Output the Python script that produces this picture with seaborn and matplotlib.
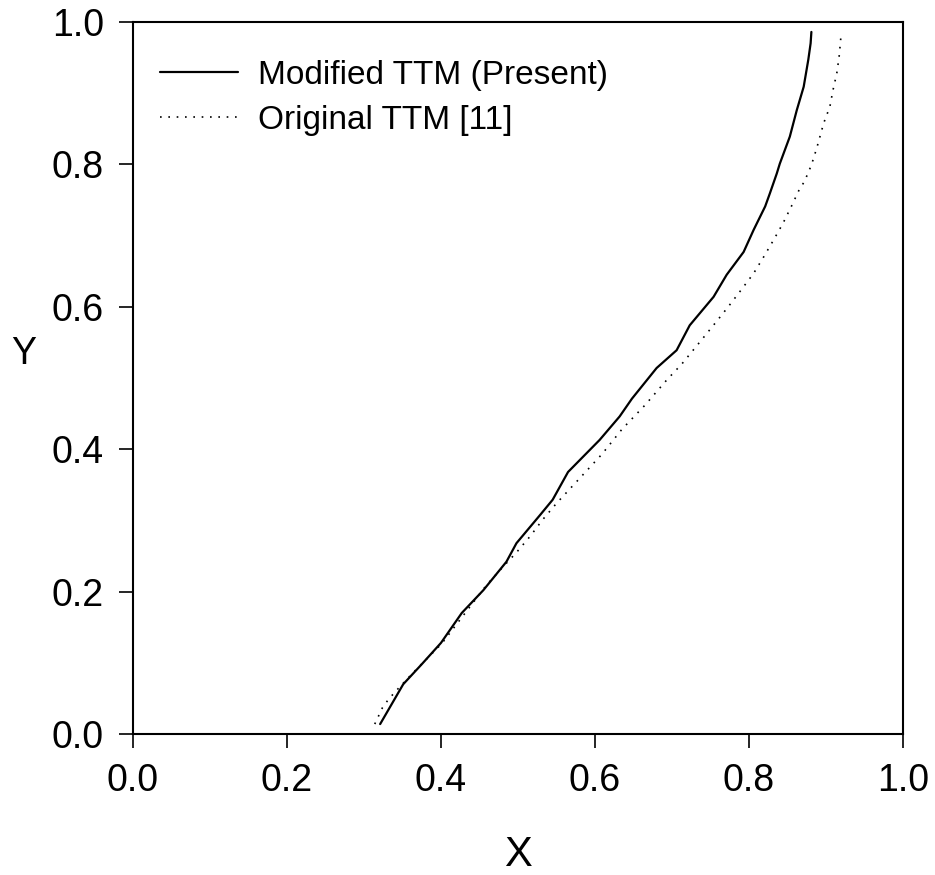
import matplotlib
matplotlib.use("Agg")
import matplotlib.pyplot as plt
import seaborn as sns
import pandas as pd

# Modified TTM (Present)
mod_x = [0.321, 0.336, 0.351, 0.375, 0.400, 0.427, 0.455, 0.485, 0.498, 0.529, 0.545,
         0.565, 0.606, 0.632, 0.648, 0.680, 0.706, 0.723, 0.754, 0.771, 0.793, 0.806,
         0.821, 0.827, 0.836, 0.840, 0.853, 0.862, 0.871, 0.877, 0.880, 0.881]
mod_y = [0.014, 0.042, 0.070, 0.098, 0.128, 0.170, 0.202, 0.242, 0.268, 0.308, 0.329,
         0.368, 0.413, 0.446, 0.471, 0.514, 0.539, 0.574, 0.614, 0.645, 0.677, 0.708,
         0.741, 0.759, 0.787, 0.801, 0.839, 0.876, 0.909, 0.947, 0.970, 0.986]

# Original TTM [11]
org_x = [0.314, 0.324, 0.332, 0.342, 0.361, 0.381, 0.401, 0.430, 0.459, 0.479, 0.498,
         0.516, 0.532, 0.550, 0.580, 0.609, 0.635, 0.665, 0.693, 0.713, 0.738, 0.756,
         0.773, 0.790, 0.806, 0.819, 0.832, 0.844, 0.855, 0.865, 0.872, 0.881, 0.888,
         0.897, 0.905, 0.909, 0.914, 0.917, 0.919, 0.920]
org_y = [0.014, 0.037, 0.049, 0.061, 0.083, 0.105, 0.127, 0.168, 0.209, 0.233, 0.255,
         0.278, 0.301, 0.324, 0.359, 0.393, 0.428, 0.462, 0.497, 0.520, 0.553, 0.577,
         0.600, 0.624, 0.647, 0.670, 0.694, 0.717, 0.741, 0.764, 0.776, 0.799, 0.823,
         0.858, 0.881, 0.904, 0.928, 0.951, 0.975, 0.986]

labels = ["Modified TTM (Present)", "Original TTM [11]"]
ticks = [0.0, 0.2, 0.4, 0.6, 0.8, 1.0]
tick_labels = ["0.0", "0.2", "0.4", "0.6", "0.8", "1.0"]

sns.set_style("ticks")
plt.rcParams['font.family'] = ['Liberation Sans', 'DejaVu Sans']
plt.rcParams['text.color'] = 'black'

fig = plt.figure(figsize=(9.35, 8.75), dpi=100)
ax = fig.add_axes([0.1422, 0.1611, 0.8236, 0.8138])

df_mod = pd.DataFrame({"x": mod_x, "y": mod_y})
df_org = pd.DataFrame({"x": org_x, "y": org_y})
sns.lineplot(data=df_mod, x="x", y="y", sort=False, estimator=None, ax=ax,
             color="black", linewidth=1.6, label=labels[0])
sns.lineplot(data=df_org, x="x", y="y", sort=False, estimator=None, ax=ax,
             color="black", linewidth=1.2, linestyle=(0, (1, 4)), label=labels[1])

ax.set_xlim(0, 1)
ax.set_ylim(0, 1)
ax.set_xticks(ticks)
ax.set_yticks(ticks)
ax.set_xticklabels(tick_labels)
ax.set_yticklabels(tick_labels)
ax.tick_params(axis="both", direction="out", length=10, width=1.2, labelsize=27,
               color="black", labelcolor="black", pad=11)
for s in ax.spines.values():
    s.set_linewidth(1.5)
    s.set_color("black")
    s.set_visible(True)

ax.set_xlabel("X", fontsize=30, labelpad=26, color="black")
ax.set_ylabel("Y", fontsize=27, rotation=0, color="black", va="center", ha="center")
ax.yaxis.set_label_coords(-0.1416, 0.534)

leg = ax.legend(loc="upper left", frameon=False, fontsize=24, handlelength=2.35,
                borderaxespad=0.0, borderpad=0.0, handletextpad=0.6, labelspacing=0.42,
                bbox_to_anchor=(0.035, 0.947))
for t in leg.get_texts():
    t.set_color("black")

fig.savefig("out.png", dpi=100, facecolor="white")
